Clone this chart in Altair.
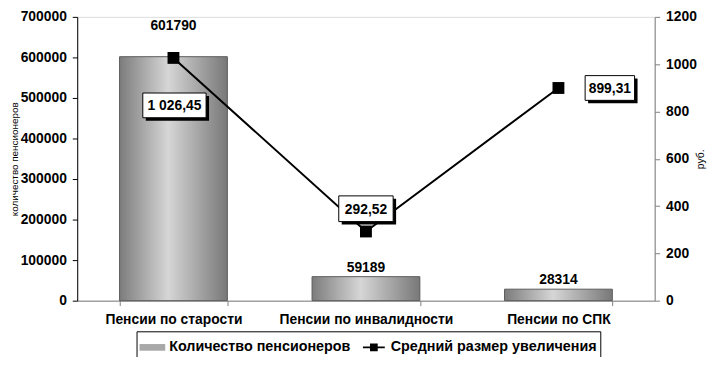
import altair as alt
import pandas as pd

# ---------------- data ----------------
CATEGORIES = ["Пенсии по старости", "Пенсии по инвалидности", "Пенсии по СПК"]
PENSIONERS = [601790, 59189, 28314]
AVG_INCREASE = [1026.45, 292.52, 899.31]
SERIES = ["Количество пенсионеров", "Средний размер увеличения"]
LEFT_TICKS = [0, 100000, 200000, 300000, 400000, 500000, 600000, 700000]
RIGHT_TICKS = [0, 200, 400, 600, 800, 1000, 1200]
LEFT_TITLE = "количество пенсионеров"
RIGHT_TITLE = "руб."

df = pd.DataFrame({"cat": CATEGORIES, "count": PENSIONERS, "avg": AVG_INCREASE})
legend_df = pd.DataFrame({"series": SERIES})

# ---------------- style ----------------
FONT = "Liberation Sans"
FS = 14
W, H = 584, 287

# label placement (pixels, relative to the data point)
BAR_LABEL_DY = [-31, -9, -9]
LINE_LABEL_BOX = [(1, 48, 64, 25), (0, -23, 55, 26), (52, 0, 50, 25)]  # dx, dy, w, h
SHADOW = 3
UNIT = 50.0  # custom symbol unit in px when size = 10000


def box_path(dx, dy, w, h):
    l = (dx - w / 2) / UNIT
    r = (dx + w / 2) / UNIT
    t = (dy - h / 2) / UNIT
    b = (dy + h / 2) / UNIT
    return f"M{l:.3f},{t:.3f}H{r:.3f}V{b:.3f}H{l:.3f}Z"


gradient = alt.LinearGradient(
    gradient="linear",
    stops=[
        alt.GradientStop(color="#7c7c7c", offset=0),
        alt.GradientStop(color="#d6d6d6", offset=0.45),
        alt.GradientStop(color="#787878", offset=1),
    ],
    x1=0, x2=1, y1=0, y2=0,
)

x_enc = alt.X(
    "cat:N",
    sort=CATEGORIES,
    scale=alt.Scale(paddingInner=0.44, paddingOuter=0.22),
    axis=alt.Axis(
        title=None, labelAngle=0, labelFont=FONT, labelFontWeight="bold",
        labelFontSize=FS, labelColor="black", domainColor="#808080",
        tickColor="#808080", tickSize=5, tickBand="extent", labelPadding=7,
        labelLimit=300,
    ),
)

y_left = alt.Y(
    "count:Q",
    scale=alt.Scale(domain=[0, 700000], nice=False),
    axis=alt.Axis(
        orient="left", values=LEFT_TICKS, format="d", title=LEFT_TITLE,
        titleFont=FONT, titleFontSize=10, titleFontWeight="normal",
        titleColor="black", titlePadding=1, labelFont=FONT,
        labelFontWeight="bold", labelFontSize=FS, labelColor="black",
        grid=False, domainColor="black", tickColor="black", tickSize=5,
        labelPadding=6,
    ),
)

y_right = alt.Y(
    "avg:Q",
    scale=alt.Scale(domain=[0, 1200], nice=False),
    axis=alt.Axis(
        orient="right", values=RIGHT_TICKS, format="d", title=RIGHT_TITLE,
        titleFont=FONT, titleFontSize=10.5, titleFontWeight="normal",
        titleColor="black", titleAngle=270, titlePadding=9, labelFont=FONT,
        labelFontWeight="bold", labelFontSize=FS, labelColor="black",
        grid=False, domainColor="#808080", tickColor="#808080", tickSize=5,
        labelPadding=6,
    ),
)

base = alt.Chart(df)

bars = base.mark_bar(fill=gradient, stroke="#5a5a5a", strokeWidth=1).encode(
    x=x_enc, y=y_left
)

bar_labels = []
for i, cat in enumerate(CATEGORIES):
    bar_labels.append(
        base.transform_filter(alt.datum.cat == cat)
        .mark_text(font=FONT, fontWeight="bold", fontSize=FS, color="black",
                   baseline="middle", align="center", dy=BAR_LABEL_DY[i])
        .encode(x=x_enc, y=y_left, text=alt.Text("count:Q", format="d"))
    )

left_group = alt.layer(bars, *bar_labels)

line = base.mark_line(color="black", strokeWidth=2).encode(x=x_enc, y=y_right)
points = base.mark_point(shape="square", size=144, filled=True, color="black",
                         opacity=1).encode(x=x_enc, y=y_right)

shadows, boxes, texts = [], [], []
for i, cat in enumerate(CATEGORIES):
    dx, dy, w, h = LINE_LABEL_BOX[i]
    sub = base.transform_filter(alt.datum.cat == cat)
    shadows.append(
        sub.mark_point(shape=box_path(dx + SHADOW, dy + SHADOW, w, h), size=10000,
                       filled=True, fill="black", stroke="black", strokeWidth=0,
                       opacity=1)
        .encode(x=x_enc, y=y_right)
    )
    boxes.append(
        sub.mark_point(shape=box_path(dx, dy, w, h), size=10000, filled=True,
                       fill="white", stroke="black", strokeWidth=1, opacity=1)
        .encode(x=x_enc, y=y_right)
    )
    texts.append(
        sub.mark_text(font=FONT, fontWeight="bold", fontSize=FS, color="black",
                      baseline="middle", align="center", dx=dx, dy=dy + 1)
        .encode(x=x_enc, y=y_right, text=alt.Text("avg:Q", format=",.2f"))
    )

BAR_SYM = "M-1,-0.26H1V0.26H-1Z"
LINE_SYM = "M-0.85,-0.07H0.85V0.07H-0.85Z M-0.3,-0.3H0.3V0.3H-0.3Z"

legend = alt.Legend(
    title=None, orient="none", legendX=60, legendY=318, direction="horizontal",
    strokeColor="black", fillColor="white", padding=3, labelFont=FONT,
    labelFontWeight="bold", labelFontSize=14.5, labelColor="black",
    symbolSize=676, symbolOpacity=1, symbolStrokeWidth=0, columnPadding=10,
    labelLimit=400, labelOffset=4,
)

legend_layer = alt.Chart(legend_df).mark_point(filled=True, opacity=0).encode(
    x=alt.value(0),
    y=alt.value(0),
    color=alt.Color("series:N", sort=SERIES,
                    scale=alt.Scale(domain=SERIES, range=["#a8a8a8", "black"]),
                    legend=legend),
    shape=alt.Shape("series:N", sort=SERIES,
                    scale=alt.Scale(domain=SERIES, range=[BAR_SYM, LINE_SYM]),
                    legend=legend),
)

right_group = alt.layer(line, points, *shadows, *boxes, *texts, legend_layer)

chart = (
    alt.layer(left_group, right_group)
    .resolve_scale(y="independent")
    .properties(
        width=W, height=H,
        padding={"left": 70, "top": 7, "right": 61, "bottom": 55},
        autosize=alt.AutoSizeParams(type="none"),
        background="white",
    )
    .configure_view(stroke=None)
    .configure(locale={"number": {"decimal": ",", "thousands": " ",
                                  "grouping": [3], "currency": ["", ""]}})
)

chart.save("out.html", embed_options={"renderer": "svg", "actions": False})
